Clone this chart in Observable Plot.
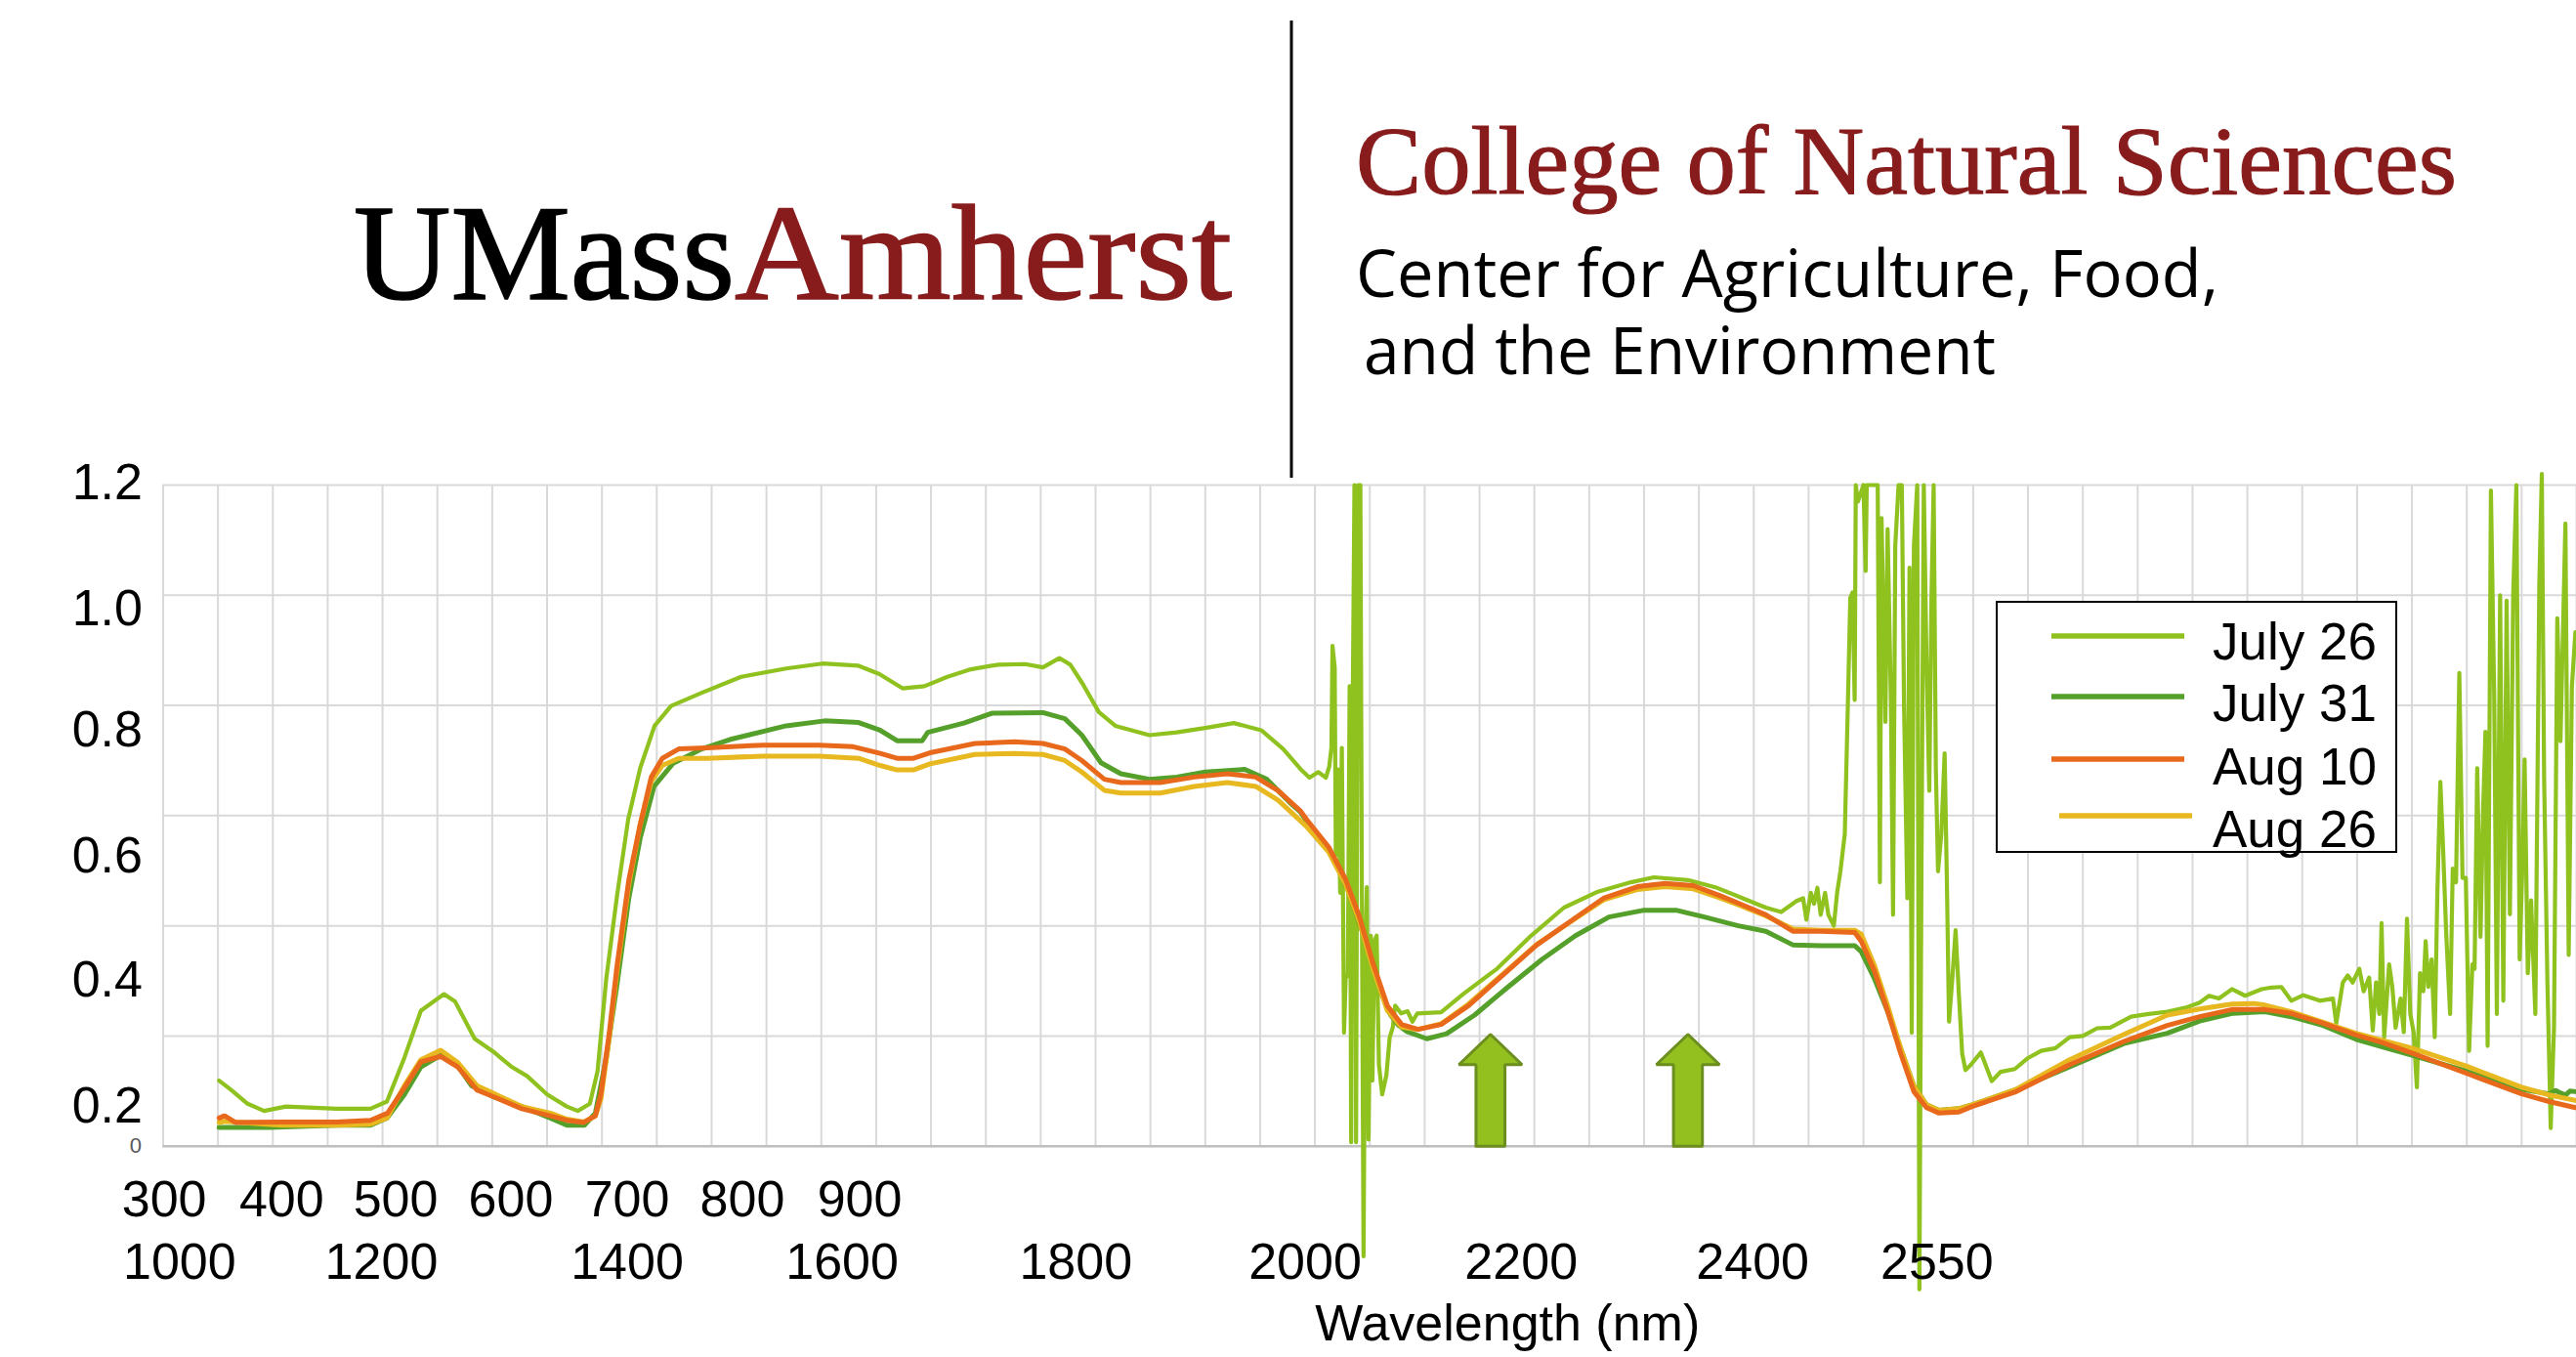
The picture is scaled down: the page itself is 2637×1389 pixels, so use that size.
<!DOCTYPE html>
<html>
<head>
<meta charset="utf-8">
<script src="https://cdn.jsdelivr.net/npm/d3@7"></script>
<script src="https://cdn.jsdelivr.net/npm/@observablehq/plot@0.6"></script>
<style>
html, body { margin: 0; padding: 0; background: #fff; }
#wrap { position: relative; width: 2637px; height: 1389px; overflow: hidden; background: #fff; }
#wrap > svg { position: absolute; left: 0; top: 0; }
</style>
</head>
<body>
<div id="wrap"></div>
<script>
// ---------------- DATA ----------------
const seriesNames = ["July 26", "July 31", "Aug 10", "Aug 26"];
const seriesColors = ["#8fc21f", "#55a02a", "#e8691c", "#e8b820"];

// [wavelength nm, reflectance]
const july26 = [
[351,0.119],[362,0.102],[377,0.077],[392,0.064],[412,0.072],[458,0.068],[489,0.068],[504,0.081],[520,0.161],[535,0.246],
[556,0.276],[566,0.263],[584,0.195],[602,0.170],[617,0.145],[632,0.127],[650,0.094],[668,0.072],[678,0.064],[689,0.077],
[696,0.136],[704,0.305],[714,0.458],[724,0.594],[735,0.687],[748,0.763],[763,0.799],[791,0.823],[827,0.852],[868,0.867],
[901,0.876],[934,0.872],[953,0.857],[974,0.831],[994,0.835],[1015,0.852],[1035,0.865],[1061,0.874],[1086,0.875],[1102,0.869],
[1117,0.886],[1127,0.874],[1138,0.840],[1153,0.788],[1168,0.763],[1199,0.746],[1224,0.751],[1250,0.759],[1276,0.768],[1301,0.755],
[1321,0.721],[1337,0.684],[1345,0.669],[1353,0.679],[1360,0.669],[1363,0.689],[1365,0.723],[1366,0.908],[1368,0.869],[1369,0.528],
[1371,0.684],[1373,0.460],[1374.5,0.723],[1376.5,0.206],[1378,0.304],[1380,0.314],[1381.6,0.835],[1383,0.007],[1384.5,0.820],[1386,1.2],
[1387.5,0.007],[1389.3,1.2],[1391.4,1.2],[1392.9,0.39],[1394.3,-0.2],[1395.8,0.333],[1397.3,0.47],[1398.8,0.012],[1400.9,0.382],[1402.4,0.119],
[1404.1,0.372],[1406.2,0.382],[1408.3,0.148],[1411.3,0.094],[1415.1,0.129],[1418.1,0.197],[1421,0.216],[1423.1,0.255],[1428.5,0.241],[1434.4,0.245],
[1438.9,0.226],[1443.3,0.241],[1465,0.243],[1485,0.276],[1516,0.322],[1547,0.382],[1577,0.433],[1608,0.462],[1638,0.479],[1659,0.488],
[1690,0.483],[1715,0.470],[1740,0.450],[1761,0.433],[1775,0.425],[1789,0.445],[1795,0.450],[1798,0.411],[1802,0.460],[1805,0.440],
[1808,0.469],[1811,0.420],[1815,0.460],[1818,0.420],[1823,0.400],[1826,0.460],[1829,0.499],[1833,0.567],[1836,0.820],[1838,0.995],
[1840,1.005],[1842,0.810],[1843,1.2],[1845,1.17],[1850,1.2],[1852,1.044],[1853,1.2],[1863,1.2],[1865,0.479],[1866.5,1.14],
[1870,0.77],[1872,1.12],[1875,0.81],[1877,0.42],[1879,1.09],[1882,1.2],[1885,1.2],[1887,0.80],[1890,0.45],[1892,1.05],
[1894,0.206],[1896,1.09],[1899,1.2],[1901,-0.26],[1903,0.547],[1905,1.2],[1907.5,0.879],[1910,0.645],[1912,0.995],[1914,1.2],
[1916,0.684],[1918,0.499],[1921,0.567],[1924,0.713],[1926,0.489],[1928,0.226],[1931,0.304],[1934,0.392],[1937,0.275],[1940,0.168],
[1943,0.138],[1948,0.148],[1957,0.170],[1967,0.118],[1975,0.135],[1988,0.140],[2000,0.160],[2012,0.173],[2025,0.178],[2038,0.198],
[2050,0.200],[2063,0.214],[2075,0.215],[2094,0.235],[2110,0.240],[2127,0.244],[2145,0.252],[2156,0.260],[2165,0.273],[2174,0.268],
[2186,0.285],[2198,0.273],[2213,0.285],[2222,0.288],[2231,0.289],[2240,0.264],[2251,0.274],[2266,0.264],[2278,0.268],[2281,0.223],
[2287,0.297],[2291.5,0.310],[2296,0.297],[2302,0.322],[2306,0.281],[2311,0.306],[2314.3,0.210],[2317.3,0.297],[2320.3,0.240],[2322.3,0.405],
[2324.7,0.198],[2329.2,0.330],[2332.1,0.289],[2335.1,0.215],[2339.6,0.268],[2342.6,0.207],[2345.5,0.413],[2348.5,0.240],[2351.5,0.207],[2354.5,0.107],
[2357.4,0.314],[2360.4,0.281],[2362.5,0.372],[2364.9,0.289],[2367.9,0.339],[2370.8,0.198],[2373.2,0.463],[2375.9,0.661],[2378.3,0.545],[2381.2,0.388],
[2384.8,0.240],[2387.2,0.504],[2390.2,0.479],[2393.2,0.859],[2396.1,0.487],[2399.1,0.487],[2402.1,0.173],[2405.1,0.330],[2407.1,0.322],[2409.5,0.686],
[2412.5,0.380],[2414.9,0.611],[2417,0.752],[2419,0.182],[2422,1.19],[2425,0.818],[2427.4,0.240],[2430.4,1.0],[2433.3,0.264],[2436.3,0.99],
[2439.3,0.421],[2442.3,1.0],[2445.2,1.2],[2448.2,0.339],[2450.6,0.504],[2452.7,0.702],[2455.6,0.314],[2458.6,0.446],[2462.5,0.240],[2466.1,1.02],
[2468.4,1.22],[2470.5,0.669],[2473.5,0.297],[2476.5,0.033],[2479.5,0.215],[2482.5,0.958],[2485.4,0.735],[2489.9,1.13],[2492.9,0.347],[2495.8,0.834],
[2499,0.933]
];

const july31 = [
[351,0.034],[397,0.034],[458,0.038],[489,0.038],[504,0.051],[520,0.094],[535,0.144],[553,0.165],[566,0.153],[581,0.110],
[602,0.089],[627,0.072],[653,0.051],[668,0.038],[684,0.038],[694,0.060],[704,0.161],[714,0.297],[724.5,0.450],[735,0.560],
[747.5,0.653],[765,0.695],[791,0.721],[816.5,0.738],[868,0.763],[903,0.772],[934,0.769],[953.5,0.755],[969,0.736],[992,0.736],
[997,0.751],[1030,0.768],[1056,0.786],[1102,0.787],[1122,0.776],[1137.5,0.746],[1155,0.696],[1173,0.676],[1199,0.666],[1224,0.670],
[1250,0.679],[1286,0.684],[1306,0.666],[1327,0.624],[1337,0.606],[1352,0.560],[1366,0.528],[1381,0.460],[1396,0.372],[1403,0.331],
[1411,0.275],[1419,0.238],[1426,0.220],[1434,0.208],[1452,0.195],[1470,0.204],[1495.5,0.238],[1526,0.289],[1557,0.339],[1587.5,0.382],
[1618,0.416],[1649,0.428],[1680,0.428],[1705,0.416],[1736,0.400],[1761,0.390],[1786,0.365],[1811,0.364],[1842,0.364],[1848,0.353],
[1860,0.304],[1872,0.245],[1884,0.177],[1896,0.109],[1907.5,0.075],[1919,0.065],[1937,0.068],[1949,0.075],[1988,0.102],[2038,0.144],
[2088.5,0.187],[2127,0.205],[2156.5,0.227],[2186,0.241],[2216,0.244],[2240,0.235],[2269,0.219],[2299,0.194],[2323,0.180],[2350,0.165],
[2400,0.136],[2450,0.103],[2475,0.095],[2481,0.101],[2485,0.097],[2490,0.093],[2494,0.100],[2499,0.099]
];

const aug10 = [
[351,0.051],[356,0.055],[366,0.043],[408,0.044],[458,0.044],[489,0.047],[504.6,0.060],[520,0.106],[535,0.153],[553,0.163],
[568.5,0.144],[586,0.102],[602,0.089],[627,0.068],[653,0.055],[668,0.047],[683.5,0.043],[694,0.055],[699,0.094],[706.6,0.204],
[714,0.331],[724.5,0.483],[735,0.585],[745,0.670],[755,0.704],[770,0.721],[796,0.723],[847,0.728],[898,0.728],[929,0.725],
[953.6,0.713],[969,0.704],[984,0.704],[999,0.714],[1040,0.731],[1076,0.734],[1102,0.731],[1122,0.721],[1137.5,0.700],[1158,0.666],
[1173,0.660],[1209,0.660],[1240,0.670],[1270,0.676],[1296,0.670],[1316.5,0.645],[1337,0.608],[1342,0.594],[1362.5,0.543],[1378,0.484],
[1390.6,0.416],[1403,0.331],[1416,0.255],[1429,0.221],[1444,0.212],[1465,0.221],[1490,0.255],[1521,0.310],[1552,0.365],[1582,0.407],
[1613,0.450],[1644,0.471],[1669,0.477],[1695,0.473],[1720,0.454],[1736,0.441],[1761,0.420],[1786,0.390],[1811,0.390],[1842,0.388],
[1848,0.372],[1860,0.318],[1872,0.245],[1884,0.168],[1896,0.099],[1907.5,0.070],[1919,0.060],[1937,0.062],[1949,0.072],[1988,0.098],
[2038,0.148],[2088.5,0.191],[2127,0.219],[2156.5,0.235],[2186,0.248],[2216,0.248],[2240,0.241],[2269,0.223],[2299,0.202],[2323,0.188],
[2350,0.169],[2400,0.132],[2450,0.095],[2475,0.081],[2499,0.070]
];

const aug26 = [
[351,0.043],[356,0.045],[408,0.038],[458,0.038],[489,0.040],[504,0.051],[520,0.110],[535,0.157],[553,0.174],[568,0.153],
[586,0.110],[602,0.095],[627,0.072],[653,0.060],[668,0.049],[683.5,0.044],[694,0.055],[699,0.085],[706.6,0.195],[714,0.322],
[724.5,0.475],[735,0.585],[745,0.662],[755,0.691],[770,0.704],[796,0.704],[847,0.708],[898,0.708],[934,0.704],[953.6,0.691],
[969,0.683],[984,0.683],[999,0.694],[1040,0.711],[1076,0.713],[1102,0.711],[1122,0.700],[1137.5,0.679],[1158,0.646],[1173,0.641],
[1209,0.641],[1240,0.653],[1270,0.660],[1296,0.653],[1316.5,0.628],[1342,0.581],[1362.5,0.534],[1378,0.475],[1390.6,0.407],[1403,0.322],
[1416,0.246],[1429,0.216],[1444,0.212],[1465,0.222],[1490,0.258],[1521,0.312],[1552,0.366],[1582,0.406],[1613,0.447],[1644,0.466],
[1669,0.471],[1695,0.467],[1720,0.450],[1736,0.438],[1761,0.418],[1786,0.394],[1811,0.392],[1842,0.392],[1848,0.385],[1860,0.328],
[1872,0.255],[1884,0.177],[1896,0.109],[1907.5,0.075],[1919,0.065],[1937,0.068],[1949,0.075],[1988,0.102],[2038,0.157],[2088.5,0.204],
[2127,0.238],[2156.5,0.249],[2186,0.258],[2206,0.259],[2216,0.256],[2240,0.244],[2269,0.225],[2299,0.205],[2323,0.192],[2350,0.178],
[2400,0.145],[2450,0.107],[2475,0.093],[2499,0.083]
];

const seriesData = [july26, july31, aug10, aug26];
const drawOrder = [0, 1, 3, 2];

// axis ticks / labels (labels sit where the reference places them, in wavelength units)
const xGrid = d3.range(300, 2501, 50);
const yGrid = [0, 0.2, 0.4, 0.6, 0.8, 1.0, 1.2];
const xRow1Labels = ["300", "400", "500", "600", "700", "800", "900"];
const xRow1At = [301, 408, 512, 617, 723, 828, 935];
const xRow2Labels = ["1000", "1200", "1400", "1600", "1800", "2000", "2200", "2400", "2550"];
const xRow2At = [315, 499, 723, 919, 1132, 1341, 1538, 1749, 1917];
const yLabels = ["1.2", "1.0", "0.8", "0.6", "0.4", "0.2"];
const yLabelAt = [1.204, 0.975, 0.755, 0.526, 0.301, 0.072];
const xTitle = "Wavelength (nm)";

// highlighted absorption features (arrows)
const arrowAt = [1510, 1690];
const arrowTip = 0.203;

// header text
const brandA = "UMass", brandB = "Amherst";
const college = "College of Natural Sciences";
const centerLines = ["Center for Agriculture, Food,", "and the Environment"];

// ---------------- CHART ----------------
const SANS = '"Liberation Sans", Arial, sans-serif';
const headBase = 0.148, headHalf = 28.8, shaftHalf = 13.2;
const arrowPts = arrowAt.flatMap((c, id) => [
  [c - shaftHalf, 0], [c - shaftHalf, headBase], [c - headHalf, headBase], [c, arrowTip],
  [c + headHalf, headBase], [c + shaftHalf, headBase], [c + shaftHalf, 0], [c - shaftHalf, 0]
].map(([x, y]) => ({id, x, y})));

const chart = Plot.plot({
  width: 2637, height: 1389,
  marginLeft: 166.5, marginRight: 0, marginTop: 496, marginBottom: 216.3,
  style: {fontFamily: SANS, background: "transparent", overflow: "visible"},
  x: {domain: [300, 2500], axis: null},
  y: {domain: [0, 1.2], axis: null},
  marks: [
    Plot.ruleX(xGrid, {stroke: "#d9d9d9", strokeWidth: 2}),
    Plot.ruleY(yGrid, {stroke: "#d9d9d9", strokeWidth: 2}),
    Plot.ruleY([0], {stroke: "#bfbfbf", strokeWidth: 2.5}),
    Plot.line(arrowPts, {x: "x", y: "y", z: "id", fill: "#93c01f", stroke: "#6b8e1f", strokeWidth: 3, strokeLinejoin: "miter"}),
    ...drawOrder.map(i => Plot.line(seriesData[i], {
      x: d => d[0], y: d => d[1], stroke: seriesColors[i],
      strokeWidth: i === 0 ? 4.2 : 5, strokeLinejoin: "round", strokeLinecap: "round"
    })),
    Plot.text(yLabels, {y: (d, i) => yLabelAt[i], text: d => d, frameAnchor: "left", textAnchor: "end", lineAnchor: "middle", dx: -21, fontSize: 52, fill: "#000"}),
    Plot.text([0], {y: d => d, text: () => "0", frameAnchor: "left", textAnchor: "end", lineAnchor: "middle", dx: -22, fontSize: 22, fill: "#595959"}),
    Plot.text(xRow1Labels, {x: (d, i) => xRow1At[i], text: d => d, frameAnchor: "bottom", lineAnchor: "middle", dy: 55, fontSize: 52, fill: "#000"}),
    Plot.text(xRow2Labels, {x: (d, i) => xRow2At[i], text: d => d, frameAnchor: "bottom", lineAnchor: "middle", dy: 119, fontSize: 52, fill: "#000"}),
    Plot.text([xTitle], {text: d => d, frameAnchor: "bottom", lineAnchor: "middle", dx: 141, dy: 182, fontSize: 52, fill: "#000"})
  ]
});
document.getElementById("wrap").appendChild(chart);

// ---------------- HEADER ----------------
const hdr = d3.select("#wrap").append("svg")
  .attr("width", 2637).attr("height", 500)
  .style("pointer-events", "none");
const SERIF = '"Liberation Serif", "Times New Roman", serif';
const MAROON = "#881c1c";
hdr.append("text").attr("x", 362).attr("y", 306).attr("font-family", SERIF).attr("font-size", 139)
  .attr("fill", "#000").attr("stroke", "#000").attr("stroke-width", 1.6)
  .attr("textLength", 390).attr("lengthAdjust", "spacingAndGlyphs").text(brandA);
hdr.append("text").attr("x", 752).attr("y", 306).attr("font-family", SERIF).attr("font-size", 139)
  .attr("fill", MAROON).attr("stroke", MAROON).attr("stroke-width", 1.6)
  .attr("textLength", 509).attr("lengthAdjust", "spacingAndGlyphs").text(brandB);
hdr.append("line").attr("x1", 1322).attr("x2", 1322).attr("y1", 21).attr("y2", 489)
  .attr("stroke", "#000").attr("stroke-width", 3);
hdr.append("text").attr("x", 1388).attr("y", 198).attr("font-family", SERIF).attr("font-size", 100)
  .attr("fill", MAROON).attr("stroke", MAROON).attr("stroke-width", 1.2)
  .attr("textLength", 1127).attr("lengthAdjust", "spacingAndGlyphs").text(college);
const centerX = [1388, 1396], centerY = [304, 383], centerLen = [883, 647];
centerLines.forEach((t, i) => {
  hdr.append("text").attr("x", centerX[i]).attr("y", centerY[i]).attr("font-family", '"Open Sans", "Noto Sans", sans-serif')
    .attr("font-size", 67).attr("fill", "#000").attr("textLength", centerLen[i]).attr("lengthAdjust", "spacingAndGlyphs").text(t);
});

// ---------------- LEGEND ----------------
const leg = d3.select("#wrap").append("svg")
  .attr("width", 411).attr("height", 258)
  .style("left", "2043px").style("top", "615px").style("overflow", "visible");
leg.append("rect").attr("x", 1).attr("y", 1).attr("width", 409).attr("height", 256)
  .attr("fill", "#fff").attr("stroke", "#000").attr("stroke-width", 2);
const legLineY = [36, 98, 162, 220], legShift = [0, 0, 0, 8], legBase = [60, 123, 188, 252];
seriesNames.forEach((name, i) => {
  leg.append("line").attr("x1", 57 + legShift[i]).attr("x2", 193 + legShift[i])
    .attr("y1", legLineY[i]).attr("y2", legLineY[i])
    .attr("stroke", seriesColors[i]).attr("stroke-width", 5.5);
  leg.append("text").attr("x", 222).attr("y", legBase[i]).attr("font-family", SANS)
    .attr("font-size", 53).attr("fill", "#000").text(name);
});
</script>
</body>
</html>
